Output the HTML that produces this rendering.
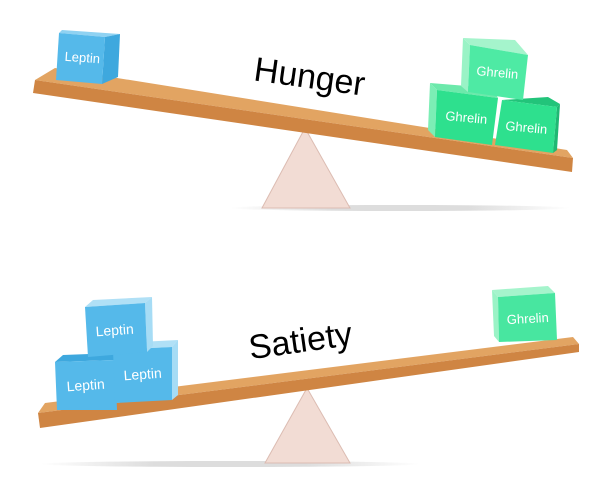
<!DOCTYPE html>
<html><head><meta charset="utf-8"><style>
html,body{margin:0;padding:0;background:#fff;width:612px;height:497px;overflow:hidden}
text{font-family:"Liberation Sans",sans-serif}
</style></head><body>
<svg width="612" height="497" viewBox="0 0 612 497" xmlns="http://www.w3.org/2000/svg">
<defs>
<linearGradient id="sh" x1="0" x2="1"><stop offset="0" stop-color="#fff"/><stop offset="0.3" stop-color="#ddd"/><stop offset="0.7" stop-color="#ddd"/><stop offset="1" stop-color="#fff"/></linearGradient>
</defs>
<!-- TOP SEESAW -->
<ellipse cx="400" cy="208" rx="170" ry="3" fill="url(#sh)"/>
<polygon points="305,128 262,208 350,208" fill="#f2dcd4" stroke="#dcbcb2" stroke-width="1"/>
<polygon points="55,68 567,150 573,158 35,80" fill="#e2a462"/>
<polygon points="35,80 573,158 572,172 33,93" fill="#cf8543"/>
<!-- leptin top -->
<polygon points="62,30 120,34 105,37 59,33" fill="#8fd2f2"/>
<polygon points="105,37 120,34 118,77 102,84" fill="#3ea8de"/>
<polygon points="59,33 105,37 102,84 56,80" fill="#55b9ea"/>
<text x="82" y="62" fill="#fff" font-size="13" text-anchor="middle" transform="rotate(4 82 62)">Leptin</text>
<!-- ghrelins -->
<polygon points="430,83 437,90 435,137 428,130" fill="#7ceeb5"/>
<polygon points="430,83 492,88 498,98 437,90" fill="#6ce9ab"/>
<polygon points="437,90 498,98 492,145 435,137" fill="#2ee08e"/>
<text x="466" y="122" fill="#fff" font-size="13" text-anchor="middle" transform="rotate(5 466 122)">Ghrelin</text>
<polygon points="502,100 548,97 560,104 557,107" fill="#22c47a"/>
<polygon points="557,107 560,104 557,150 553,153" fill="#1fb873"/>
<polygon points="502,100 557,107 553,153 495,145" fill="#2ee08e"/>
<text x="526" y="132" fill="#fff" font-size="13" text-anchor="middle" transform="rotate(5 526 132)">Ghrelin</text>
<polygon points="463,38 470,45 468,92 461,86" fill="#9af3c6"/>
<polygon points="463,38 515,40 528,55 470,45" fill="#a5f4cc"/>
<polygon points="470,45 528,55 523,100 468,92" fill="#4eeaa4"/>
<text x="497" y="77" fill="#fff" font-size="13" text-anchor="middle" transform="rotate(5 497 77)">Ghrelin</text>
<text x="308" y="88" fill="#000" font-size="34" text-anchor="middle" transform="rotate(8 308 88)">Hunger</text>

<!-- BOTTOM SEESAW -->
<ellipse cx="230" cy="464" rx="190" ry="3" fill="url(#sh)"/>
<polygon points="307,388 265,463 350,463" fill="#f2dcd4" stroke="#dcbcb2" stroke-width="1"/>
<polygon points="45,403 573,337 579,344 38,413" fill="#e2a462"/>
<polygon points="38,413 579,344 579,352 40,428" fill="#cf8543"/>
<!-- ghrelin right -->
<polygon points="492,290 498,297 499,342 494,336" fill="#9af3c6"/>
<polygon points="492,290 548,286 555,293 498,297" fill="#a5f4cc"/>
<polygon points="498,297 555,293 557,340 499,342" fill="#48e6a0"/>
<text x="528" y="323" fill="#fff" font-size="13" text-anchor="middle" transform="rotate(-3 528 323)">Ghrelin</text>
<!-- leptins -->
<polygon points="55,362 63,355 115,353 115,360" fill="#3ea8de"/>
<polygon points="55,362 115,360 117,410 57,410" fill="#55b9ea"/>
<text x="86" y="390" fill="#fff" font-size="14" text-anchor="middle" transform="rotate(-4 86 390)">Leptin</text>
<polygon points="113,350 120,343 178,340 172,347" fill="#b0e0f6"/>
<polygon points="172,347 178,340 178,395 172,400" fill="#a6dcf5"/>
<polygon points="113,350 172,347 172,400 115,403" fill="#55b9ea"/>
<text x="143" y="379" fill="#fff" font-size="14" text-anchor="middle" transform="rotate(-4 143 379)">Leptin</text>
<polygon points="85,307 93,300 152,297 145,303" fill="#b0e0f6"/>
<polygon points="145,303 152,297 153,346 147,352" fill="#a6dcf5"/>
<polygon points="85,307 145,303 147,352 88,357" fill="#55b9ea"/>
<text x="115" y="335" fill="#fff" font-size="14" text-anchor="middle" transform="rotate(-4 115 335)">Leptin</text>
<text x="302" y="352" fill="#000" font-size="34" text-anchor="middle" transform="rotate(-8 302 352)">Satiety</text>
</svg>
</body></html>
